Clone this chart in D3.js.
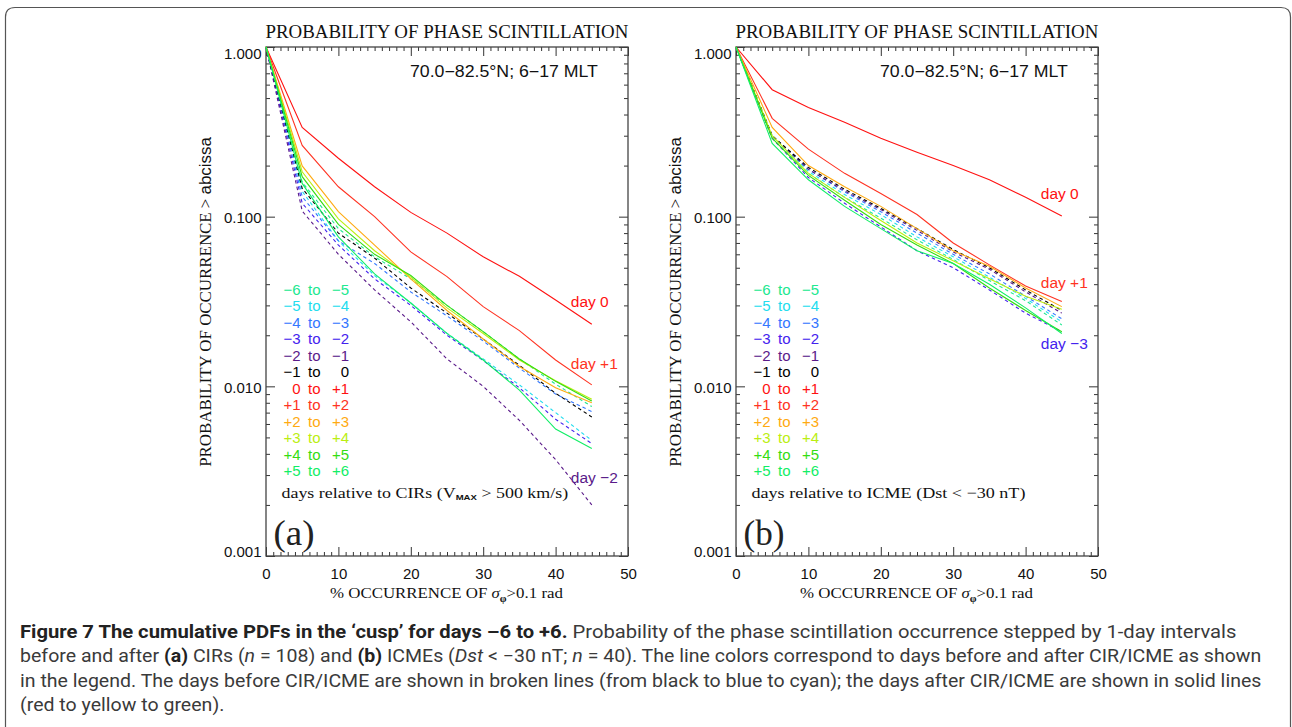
<!DOCTYPE html>
<html><head><meta charset="utf-8">
<script src="https://cdn.jsdelivr.net/npm/d3@7"></script>
<style>body{margin:0;background:#fff;} svg{display:block;}</style>
</head><body>
<svg id="c" width="1292" height="727"></svg>
<script>
// ---------------- DATA ----------------
const xPercent = [0, 5, 10, 15, 20, 25, 30, 35, 40, 45];
const seriesLabels = ["−6 to −5", "−5 to −4", "−4 to −3", "−3 to −2", "−2 to −1", "−1 to 0",
                      "0 to +1", "+1 to +2", "+2 to +3", "+3 to +4", "+4 to +5", "+5 to +6"];
const seriesColors = ["#20e890", "#22ddee", "#3377ff", "#4422ee", "#5a1a8a", "#000000",
                      "#ff1111", "#ff3322", "#ffaa11", "#bbee11", "#33dd11", "#11ee66"];
const seriesDashed = [true, true, true, true, true, true, false, false, false, false, false, false];

// panel (a): CIRs
const cirValues = [
  [1, 0.160, 0.085, 0.058, 0.043, 0.030, 0.021, 0.0145, 0.0103, 0.0076],
  [1, 0.141, 0.072, 0.045, 0.031, 0.0205, 0.0145, 0.0102, 0.0070, 0.0048],
  [1, 0.131, 0.072, 0.053, 0.036, 0.026, 0.0185, 0.0128, 0.0090, 0.0071],
  [1, 0.120, 0.068, 0.043, 0.030, 0.020, 0.0142, 0.0098, 0.0064, 0.0046],
  [1, 0.108, 0.060, 0.037, 0.024, 0.0145, 0.0100, 0.0063, 0.0037, 0.0020],
  [1, 0.147, 0.080, 0.057, 0.038, 0.027, 0.019, 0.0133, 0.0091, 0.0066],
  [1, 0.336, 0.221, 0.150, 0.106, 0.080, 0.058, 0.0445, 0.0323, 0.0232],
  [1, 0.263, 0.150, 0.100, 0.062, 0.0443, 0.0295, 0.0213, 0.0143, 0.0102],
  [1, 0.199, 0.107, 0.068, 0.043, 0.028, 0.019, 0.0131, 0.0098, 0.0080],
  [1, 0.184, 0.097, 0.063, 0.044, 0.029, 0.0205, 0.0143, 0.0108, 0.0084],
  [1, 0.172, 0.090, 0.060, 0.045, 0.030, 0.021, 0.0145, 0.0107, 0.0082],
  [1, 0.157, 0.076, 0.046, 0.031, 0.0205, 0.0143, 0.0095, 0.0056, 0.0043]
];
// panel (b): ICMEs
const icmeValues = [
  [1, 0.29, 0.180, 0.130, 0.098, 0.073, 0.056, 0.042, 0.032, 0.023],
  [1, 0.30, 0.185, 0.135, 0.103, 0.076, 0.058, 0.044, 0.033, 0.024],
  [1, 0.30, 0.190, 0.140, 0.107, 0.080, 0.060, 0.046, 0.034, 0.025],
  [1, 0.29, 0.170, 0.120, 0.087, 0.063, 0.050, 0.037, 0.027, 0.021],
  [1, 0.30, 0.190, 0.142, 0.110, 0.083, 0.062, 0.049, 0.036, 0.027],
  [1, 0.30, 0.195, 0.145, 0.112, 0.085, 0.064, 0.050, 0.037, 0.028],
  [1, 0.56, 0.440, 0.360, 0.290, 0.240, 0.200, 0.165, 0.130, 0.101],
  [1, 0.38, 0.250, 0.180, 0.137, 0.103, 0.070, 0.052, 0.039, 0.0316],
  [1, 0.336, 0.200, 0.150, 0.115, 0.085, 0.063, 0.051, 0.038, 0.0295],
  [1, 0.30, 0.180, 0.130, 0.095, 0.070, 0.055, 0.043, 0.034, 0.0285],
  [1, 0.29, 0.175, 0.125, 0.090, 0.068, 0.053, 0.038, 0.028, 0.021],
  [1, 0.27, 0.165, 0.115, 0.085, 0.063, 0.053, 0.040, 0.029, 0.0205]
];
const yTickValues = [1, 0.1, 0.01, 0.001];
const xTickValues = [0, 10, 20, 30, 40, 50];
const cirDayLabels = [{text: "day 0", s: 6, x: 42.1, v: 0.0317},
                      {text: "day +1", s: 7, x: 42.1, v: 0.01374},
                      {text: "day −2", s: 4, x: 42.1, v: 0.00292}];
const icmeDayLabels = [{text: "day 0", s: 6, x: 42.1, v: 0.138},
                       {text: "day +1", s: 7, x: 42.1, v: 0.0408},
                       {text: "day −3", s: 3, x: 42.1, v: 0.0180}];

// ---------------- DRAW ----------------
const SERIF = "'Liberation Serif','Times New Roman',serif";
const SANS = "'Liberation Sans',Arial,sans-serif";
const svg = d3.select("#c");

function fitWidth(sel, target, ax) {
  const w = sel.node().getComputedTextLength();
  if (w > 0) sel.attr("transform", `translate(${ax},0) scale(${target / w},1) translate(${-ax},0)`);
}

// card border
svg.append("path")
  .attr("d", "M5.5,727 L5.5,17 Q5.5,7.5 15,7.5 L1281,7.5 Q1290.5,7.5 1290.5,17 L1290.5,727")
  .attr("fill", "none").attr("stroke", "#555").attr("stroke-width", 1.2);

const TOP = 47, BOTTOM = 556, WIDTH = 362;

function drawPanel(x0, values, dayLabels, letter, noteParts, noteWidth) {
  const x = d3.scaleLinear().domain([0, 50]).range([x0, x0 + WIDTH]);
  const y = d3.scaleLog().domain([0.001, 1]).range([BOTTOM, TOP]);
  const g = svg.append("g");

  // minor ticks
  const xMinor = d3.range(0, 51, 1).filter(v => v % 10 !== 0);
  const yMinor = [];
  [0.001, 0.01, 0.1].forEach(d => { for (let k = 2; k <= 9; k++) yMinor.push(d * k); });

  const styleAxis = a => { a.select(".domain").remove(); a.selectAll("line").attr("stroke", "#333"); };

  g.append("g").attr("transform", `translate(0,${BOTTOM})`)
    .call(d3.axisBottom(x).tickValues(xMinor).tickSize(-4).tickFormat("")).call(styleAxis);
  g.append("g").attr("transform", `translate(0,${TOP})`)
    .call(d3.axisTop(x).tickValues(xMinor).tickSize(-4).tickFormat("")).call(styleAxis);
  g.append("g").attr("transform", `translate(0,${TOP})`)
    .call(d3.axisTop(x).tickValues(xTickValues).tickSize(-9).tickFormat("")).call(styleAxis);
  const xb = g.append("g").attr("transform", `translate(0,${BOTTOM})`)
    .call(d3.axisBottom(x).tickValues(xTickValues).tickSize(-9).tickPadding(12).tickFormat(d3.format("d")))
    .call(styleAxis);
  xb.selectAll("text").attr("font-family", SANS).attr("font-size", 15).attr("fill", "#111");

  g.append("g").attr("transform", `translate(${x0},0)`)
    .call(d3.axisLeft(y).tickValues(yMinor).tickSize(-4).tickFormat("")).call(styleAxis);
  g.append("g").attr("transform", `translate(${x0 + WIDTH},0)`)
    .call(d3.axisRight(y).tickValues(yMinor).tickSize(-4).tickFormat("")).call(styleAxis);
  g.append("g").attr("transform", `translate(${x0 + WIDTH},0)`)
    .call(d3.axisRight(y).tickValues(yTickValues).tickSize(-9).tickFormat("")).call(styleAxis);
  const yl = g.append("g").attr("transform", `translate(${x0},0)`)
    .call(d3.axisLeft(y).tickValues(yTickValues).tickSize(-9).tickPadding(4.5).tickFormat(d3.format(".3f")))
    .call(styleAxis);
  yl.selectAll("text").attr("font-family", SANS).attr("font-size", 15).attr("fill", "#111")
    .attr("dy", d => d === 1 ? "0.75em" : d === 0.001 ? "0.05em" : "0.38em");

  // frame
  g.append("rect").attr("x", x0).attr("y", TOP).attr("width", WIDTH).attr("height", BOTTOM - TOP)
    .attr("fill", "none").attr("stroke", "#444").attr("stroke-width", 1.3);

  // lines
  const line = d3.line().x(d => x(d[0])).y(d => y(d[1]));
  values.forEach((vals, i) => {
    g.append("path").datum(xPercent.map((xv, j) => [xv, vals[j]]))
      .attr("d", line).attr("fill", "none")
      .attr("stroke", seriesColors[i]).attr("stroke-width", 1.1)
      .attr("stroke-dasharray", seriesDashed[i] ? "3.5,3" : null);
  });

  // title
  const t = g.append("text").attr("x", x0 - 0.5).attr("y", 38)
    .attr("font-family", SERIF).attr("font-size", 19.5).attr("fill", "#111")
    .text("PROBABILITY OF PHASE SCINTILLATION");
  fitWidth(t, 363, x0 - 0.5);

  const sub = g.append("text").attr("x", x0 + 144).attr("y", 77)
    .attr("font-family", SANS).attr("font-size", 16).attr("fill", "#111")
    .text("70.0−82.5°N; 6−17 MLT");
  fitWidth(sub, 188, x0 + 144);

  // y label
  const yg = g.append("g").attr("transform", `translate(${x0 - 55},302) rotate(-90)`);
  const ylab = yg.append("text").attr("x", 0).attr("y", 0).attr("text-anchor", "middle")
    .attr("font-family", SERIF).attr("font-size", 16).attr("fill", "#111");
  ylab.append("tspan").text("PROBABILITY OF OCCURRENCE > ");
  ylab.append("tspan").attr("font-family", SANS).text("abcissa");
  fitWidth(ylab, 330, 0);

  // x label
  const xlab = g.append("text").attr("x", x0 + 64).attr("y", 598)
    .attr("font-family", SERIF).attr("font-size", 15.5).attr("fill", "#111");
  xlab.append("tspan").text("% OCCURRENCE OF ");
  xlab.append("tspan").attr("font-style", "italic").text("σ");
  xlab.append("tspan").attr("font-size", 10).attr("font-weight", "bold").attr("dy", 4).text("φ");
  xlab.append("tspan").attr("dy", -4).text(">0.1 rad");
  fitWidth(xlab, 233, x0 + 64);

  // legend
  seriesLabels.forEach((lab, i) => {
    const yy = 290 + i * 16.45 + 5;
    const parts = lab.split(" to ");
    const c = seriesColors[i];
    g.append("text").attr("x", x0 + 34.5).attr("y", yy).attr("text-anchor", "end")
      .attr("font-family", SANS).attr("font-size", 15).attr("fill", c).text(parts[0]);
    g.append("text").attr("x", x0 + 42).attr("y", yy)
      .attr("font-family", SANS).attr("font-size", 15).attr("fill", c).text("to");
    g.append("text").attr("x", x0 + 83).attr("y", yy).attr("text-anchor", "end")
      .attr("font-family", SANS).attr("font-size", 15).attr("fill", c).text(parts[1]);
  });
  const note = g.append("text").attr("x", x0 + 15.5).attr("y", 498)
    .attr("font-family", SERIF).attr("font-size", 15).attr("fill", "#111");
  noteParts(note);
  fitWidth(note, noteWidth, x0 + 15.5);

  // day labels
  dayLabels.forEach(d => {
    g.append("text").attr("x", x(d.x)).attr("y", y(d.v)).attr("dy", "0.36em")
      .attr("font-family", SANS).attr("font-size", 15.5).attr("fill", seriesColors[d.s]).text(d.text);
  });

  // panel letter
  const pl = g.append("text").attr("x", x0 + 7.5).attr("y", 545)
    .attr("font-family", SERIF).attr("font-size", 36).attr("fill", "#222").text(letter);
  fitWidth(pl, 41, x0 + 7.5);
}

drawPanel(266, cirValues, cirDayLabels, "(a)", t => {
  t.append("tspan").text("days relative to CIRs (V");
  t.append("tspan").attr("font-family", SANS).attr("font-size", 8).attr("font-weight", "bold").attr("dy", 2).text("MAX");
  t.append("tspan").attr("dy", -2).text(" > 500 km/s)");
}, 287);
drawPanel(736, icmeValues, icmeDayLabels, "(b)", t => {
  t.append("tspan").text("days relative to ICME (Dst < −30 nT)");
}, 274);

// ---------------- CAPTION ----------------
const CAP = "Roboto,'Open Sans',sans-serif";
const captionLines = [
  [["b", "Figure 7 The cumulative PDFs in the ‘cusp’ for days –6 to +6."], ["n", " Probability of the phase scintillation occurrence stepped by 1-day intervals"]],
  [["n", "before and after "], ["b", "(a)"], ["n", " CIRs ("], ["i", "n"], ["n", " = 108) and "], ["b", "(b)"], ["n", " ICMEs ("], ["i", "Dst"], ["n", " < −30 nT; "], ["i", "n"], ["n", " = 40). The line colors correspond to days before and after CIR/ICME as shown"]],
  [["n", "in the legend. The days before CIR/ICME are shown in broken lines (from black to blue to cyan); the days after CIR/ICME are shown in solid lines"]],
  [["n", "(red to yellow to green)."]]
];
const captionWidths = [1218, 1242, 1242, null];
const captionY = [638, 662, 687, 711];
let lastScale = 1;
captionLines.forEach((parts, i) => {
  const t = svg.append("text").attr("x", 20).attr("y", captionY[i])
    .attr("font-family", CAP).attr("font-size", 17.5).attr("fill", "#3a3a3a");
  parts.forEach(p => {
    const ts = t.append("tspan").text(p[1]);
    if (p[0] === "b") ts.attr("font-weight", "bold").attr("fill", "#222");
    if (p[0] === "i") ts.attr("font-style", "italic");
  });
  const w = t.node().getComputedTextLength();
  const s = captionWidths[i] ? captionWidths[i] / w : lastScale;
  lastScale = s;
  t.attr("transform", `translate(20,0) scale(${s},1) translate(-20,0)`);
});
</script>
</body></html>
